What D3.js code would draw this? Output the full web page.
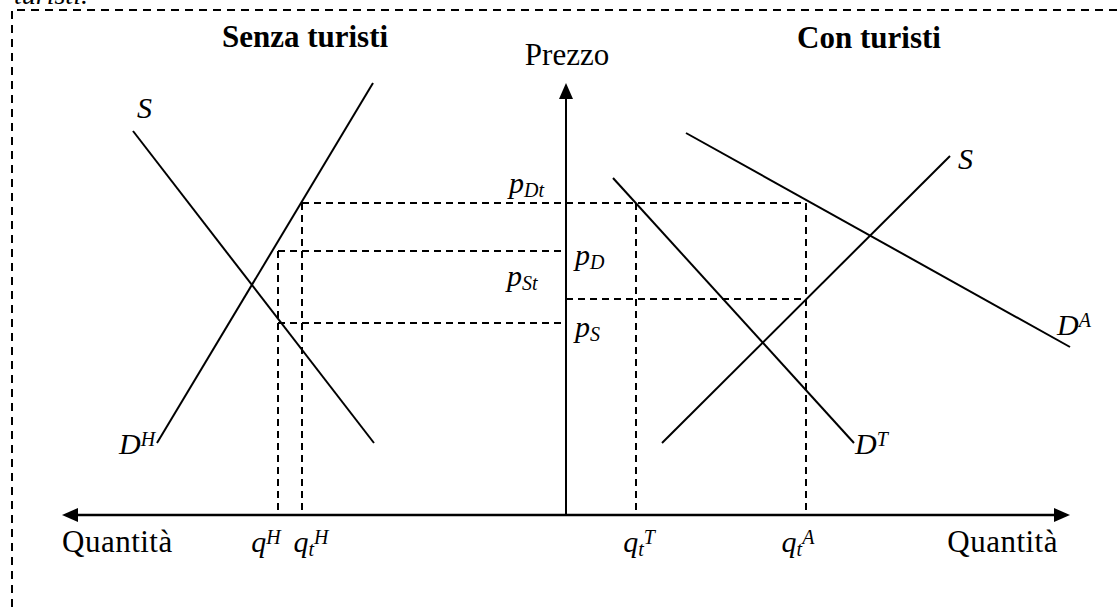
<!doctype html>
<html>
<head>
<meta charset="utf-8">
<script src="https://d3js.org/d3.v7.min.js"></script>
<style>
  body { margin: 0; background: #fff; }
  text { font-family: "Liberation Serif", "Times New Roman", serif; fill: #000; }
  .curve { stroke: #000; stroke-width: 2; fill: none; }
  .guide { stroke: #000; stroke-width: 2; stroke-dasharray: 7 5; fill: none; }
  .axis  { stroke: #000; stroke-width: 2.5; fill: none; }
  .frame { stroke: #000; stroke-width: 2; stroke-dasharray: 8 6; fill: none; }
</style>
</head>
<body>
<svg width="1117" height="607"></svg>
<script>
// curve end points as [quantity, price]; left panel quantities are negative
// (quantity grows to the left of the price axis there)
var leftS   = [[-10.825, 9.6], [-4.8, 1.8]];
var leftDH  = [[-10.225, 1.8], [-4.825, 10.8]];
var rightS  = [[2.4, 1.8], [9.6, 8.975]];
var rightDT = [[1.175, 8.425], [7.2, 1.8]];
var rightDA = [[3.0, 9.55], [12.6, 4.2]];

// price levels
var priceSubs   = ["Dt", "D", "St", "S"];
var priceValues = [7.8, 6.6, 5.4, 4.8];
// horizontal dashed guides: [price, from q, to q]
var guidesH = [[7.8, -6.6, 6.0], [6.6, -7.2, 0], [5.4, 0, 6.0], [4.8, -7.2, 0]];

// quantity levels
var qtySubs   = ["", "t", "t", "t"];
var qtySups   = ["H", "H", "T", "A"];
var qtyValues = [-7.2, -6.6, 1.75, 6.0];
var qtyTop    = [6.6, 7.8, 7.8, 7.8];

var qMax = 12.6, pMax = 10.8;

var svg = d3.select("svg");
svg.append("rect").attr("width", 1117).attr("height", 607).attr("fill", "#fff");

var x = d3.scaleLinear().domain([-qMax, qMax]).range([62, 1070]);
var y = d3.scaleLinear().domain([0, 12]).range([515, 35]);

// dashed frame, only top and left edges are inside the picture
svg.append("path").attr("class", "frame").attr("d", "M12,607L12,10L1117,10");
svg.append("text").attr("x", 14).attr("y", 4)
    .style("font-style", "italic").style("font-size", "28px").text("turisti.");

var line = d3.line().x(function(d) { return x(d[0]); }).y(function(d) { return y(d[1]); });

// guides
svg.selectAll(".gh").data(guidesH).enter().append("path")
    .attr("class", "guide")
    .attr("d", function(d) { return line([[d[1], d[0]], [d[2], d[0]]]); });
svg.selectAll(".gv").data(qtyValues).enter().append("path")
    .attr("class", "guide")
    .attr("d", function(d, i) { return line([[d, qtyTop[i]], [d, 0]]); });

// curves
[leftS, leftDH, rightS, rightDT, rightDA].forEach(function(c) {
  svg.append("path").attr("class", "curve").attr("d", line(c));
});

// axes with arrow heads
var y0 = y(0), x0 = x(0);
svg.append("path").attr("class", "axis")
    .attr("d", "M" + (x(-qMax) + 10) + "," + y0 + "L" + (x(qMax) - 10) + "," + y0);
svg.append("path").attr("class", "axis").style("stroke-width", 2)
    .attr("d", "M" + x0 + "," + y0 + "L" + x0 + "," + (y(pMax) + 10));
var tl = x(-qMax), tr = x(qMax), tt = y(pMax);
svg.append("path").attr("d", "M" + tl + "," + y0 + "L" + (tl + 16) + "," + (y0 - 7) + "L" + (tl + 16) + "," + (y0 + 7) + "Z");
svg.append("path").attr("d", "M" + tr + "," + y0 + "L" + (tr - 16) + "," + (y0 - 7) + "L" + (tr - 16) + "," + (y0 + 7) + "Z");
svg.append("path").attr("d", "M" + x0 + "," + tt + "L" + (x0 - 7) + "," + (tt + 16) + "L" + (x0 + 7) + "," + (tt + 16) + "Z");

// label helper: italic letter with optional subscript and superscript
function label(px, py, main, sub, sup, anchor) {
  var t = svg.append("text").attr("x", px).attr("y", py)
      .attr("text-anchor", anchor || "start")
      .style("font-style", "italic").style("font-size", "30px");
  t.append("tspan").text(main);
  var shift = 0;
  if (sub) { t.append("tspan").attr("dy", 4).style("font-size", "20px").text(sub); shift = 4; }
  if (sup) { t.append("tspan").attr("dy", -8 - shift).style("font-size", "20px").text(sup); }
  return t;
}

// titles
svg.append("text").attr("x", 305).attr("y", 47).attr("text-anchor", "middle")
    .style("font-weight", "bold").style("font-size", "31px").text("Senza turisti");
svg.append("text").attr("x", 869).attr("y", 48).attr("text-anchor", "middle")
    .style("font-weight", "bold").style("font-size", "31px").text("Con turisti");
svg.append("text").attr("x", x0 + 1).attr("y", 65).attr("text-anchor", "middle")
    .style("font-size", "31px").text("Prezzo");
svg.append("text").attr("x", x(-qMax)).attr("y", 552)
    .style("font-size", "31px").style("letter-spacing", "0.5px").text("Quantità");
svg.append("text").attr("x", x(qMax) - 12).attr("y", 552).attr("text-anchor", "end")
    .style("font-size", "31px").style("letter-spacing", "0.5px").text("Quantità");

// curve labels
label(x(leftS[0][0]) + 4, y(leftS[0][1]) - 13, "S");
label(x(leftDH[0][0]) - 38, y(leftDH[0][1]) + 11, "D", null, "H");
label(x(rightS[1][0]) + 8, y(rightS[1][1]) + 13, "S");
label(x(rightDT[1][0]) + 1, y(rightDT[1][1]) + 11, "D", null, "T");
label(x(rightDA[1][0]) - 13, y(rightDA[1][1]) - 12, "D", null, "A");

// price labels: left of axis for Dt and St, right of axis for D and S
var priceDx = [-57, 9, -59, 9];
var priceDy = [-10, 14, -13, 14];
priceValues.forEach(function(p, i) {
  label(x0 + priceDx[i], y(p) + priceDy[i], "p", priceSubs[i]);
});

// quantity labels
var qtyDx = [-12, 9, 3, -8];
qtyValues.forEach(function(q, i) {
  label(x(q) + qtyDx[i], 552, "q", qtySubs[i], qtySups[i], "middle");
});
</script>
</body>
</html>
